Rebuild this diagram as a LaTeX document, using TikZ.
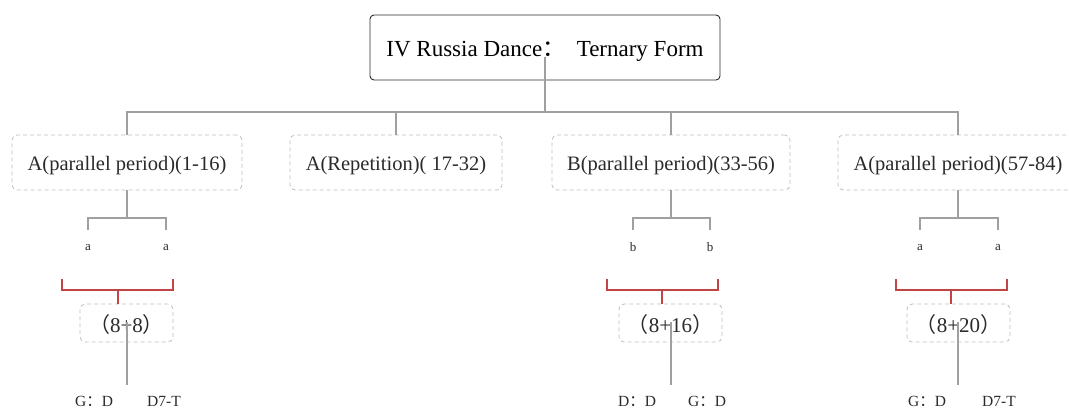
\documentclass[tikz,border=0pt]{standalone}
\usepackage{fontspec}
\setmainfont{Liberation Serif}
\newfontfamily\cjk{Noto Sans CJK SC}
\definecolor{ink}{HTML}{2A2A2A}
\definecolor{wire}{HTML}{A0A0A0}
\definecolor{dashc}{HTML}{BDBDBD}
\definecolor{brk}{HTML}{C24545}
\newcommand{\fcolon}{{\cjk ：}}
\newcommand{\lp}{{\cjk （}}
\newcommand{\rp}{{\cjk ）}}
% set a line with its baseline a given distance below the node centre
\newcommand{\onbase}[2]{\raisebox{-#1}[0pt][0pt]{#2}}
\begin{document}
\begin{tikzpicture}[x=1pt,y=-1pt,
  titlebox/.style={draw=ink,line width=0.9pt,rounded corners=4pt,minimum width=350pt,minimum height=65pt,inner sep=0pt,text=black,font=\fontsize{23}{26}\selectfont},
  partbox/.style={draw=dashc,dash pattern=on 4pt off 3pt,line width=0.8pt,rounded corners=5pt,minimum height=55pt,inner sep=0pt,text=ink,font=\fontsize{20.5}{24}\selectfont},
  sumbox/.style={partbox,font=\fontsize{21}{24}\selectfont,minimum height=38pt},
  phr/.style={inner sep=0pt,text=ink,font=\fontsize{13}{15}\selectfont},
  key/.style={inner sep=0pt,text=ink,font=\fontsize{15.5}{18}\selectfont},
  gline/.style={draw=wire,line width=1.1pt},
  rline/.style={draw=brk,line width=1.3pt}]
\useasboundingbox (0,0) rectangle (1069,408);
\clip (0,0) rectangle (1069,408);

% title
\node[titlebox] (top) at (545,47.5) {\onbase{9pt}{IV Russia Dance\fcolon\ \ Ternary Form}};

% four sections
\node[partbox,minimum width=230pt] (c1) at (127,162.5) {\onbase{8pt}{A(parallel period)(1-16)}};
\node[partbox,minimum width=212pt] (c2) at (396,162.5) {\onbase{8pt}{A(Repetition)( 17-32)}};
\node[partbox,minimum width=238pt] (c3) at (671,162.5) {\onbase{8pt}{B(parallel period)(33-56)}};
\node[partbox,minimum width=240pt] (c4) at (958,162.5) {\onbase{8pt}{A(parallel period)(57-84)}};

% trunk from the title
\coordinate (t0) at (545,57);
\coordinate (bus) at (545,112);
\draw[gline] (t0) -- (bus);
\draw[gline] (c1.north) |- (bus);
\draw[gline] (c4.north) |- (bus);
\draw[gline] (c2.north) -- (c2.north |- bus);
\draw[gline] (c3.north) -- (c3.north |- bus);

% phrases
\node[phr] (a11) at (88,248) {a};
\node[phr] (a12) at (166,248) {a};
\node[phr] (b31) at (633,247) {b};
\node[phr] (b32) at (710,247) {b};
\node[phr] (a41) at (920,248) {a};
\node[phr] (a42) at (998,248) {a};

\foreach \p/\l/\r in {c1/a11/a12, c3/b31/b32, c4/a41/a42}{
  \draw[gline] (\p.south) -- ++(0,28);
  \draw[gline] ([yshift=18pt]\l.center |- 0,248) -- ++(0,-12) -| ([yshift=18pt]\r.center |- 0,248);
}

% bar counts
\node[sumbox,minimum width=93pt] (s1) at (126.5,323) {\onbase{9pt}{\lp 8+8\rp}};
\node[sumbox,minimum width=103pt] (s3) at (670.5,323) {\onbase{9pt}{\lp 8+16\rp}};
\node[sumbox,minimum width=103pt] (s4) at (958.5,323) {\onbase{9pt}{\lp 8+20\rp}};

% red brackets
\foreach \s/\xl/\xr/\xm in {s1/62/173/118, s3/607/718/662, s4/896/1007/951}{
  \draw[rline] (\xl,279) -- (\xl,290) -- (\xr,290) -- (\xr,279);
  \draw[rline] (\xm,290) -- (\xm,290 |- \s.north);
}

% keys
\node[key] (k11) at (94,401) {G\fcolon D};
\node[key] (k12) at (164,401) {D7-T};
\node[key] (k31) at (637,401) {D\fcolon D};
\node[key] (k32) at (707,401) {G\fcolon D};
\node[key] (k41) at (927,401) {G\fcolon D};
\node[key] (k42) at (999,401) {D7-T};

\coordinate (e1) at (127,385);
\coordinate (e3) at (671,385);
\coordinate (e4) at (958,385);
\draw[gline] (127,322) -- (e1);
\draw[gline] (671,322) -- (e3);
\draw[gline] (958,322) -- (e4);
\end{tikzpicture}
\end{document}
